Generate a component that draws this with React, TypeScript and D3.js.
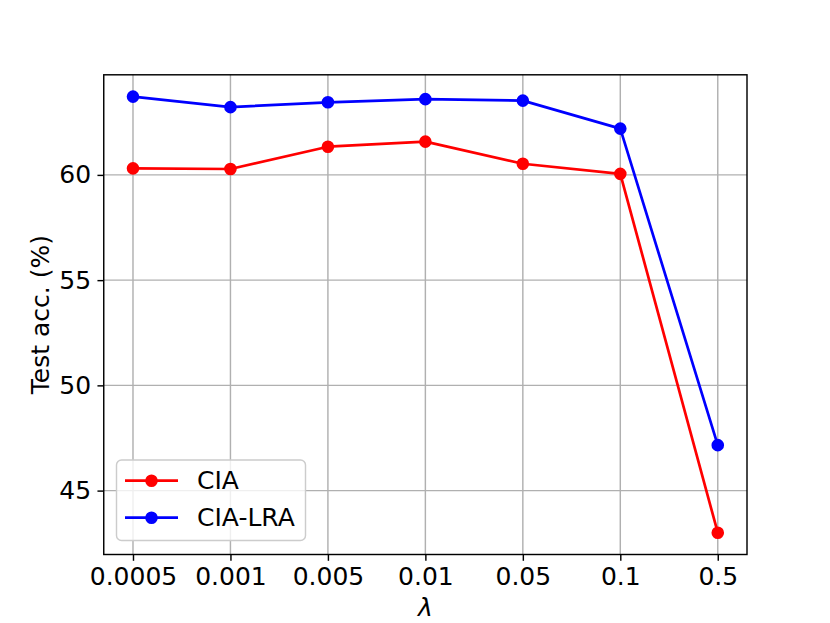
import React, { useRef, useEffect } from "react";
import * as d3 from "d3";

const lambdas = ["0.0005", "0.001", "0.005", "0.01", "0.05", "0.1", "0.5"];
const ciaAcc = [60.31, 60.28, 61.34, 61.58, 60.53, 60.05, 43.0];
const ciaLraAcc = [63.72, 63.22, 63.45, 63.6, 63.53, 62.2, 47.16];
const yTicks = [45, 50, 55, 60];

const series = [
  { name: "CIA", values: ciaAcc, color: "#ff0000" },
  { name: "CIA-LRA", values: ciaLraAcc, color: "#0000ff" },
];

const LambdaChart = ({ width = 830, height = 623 }) => {
  const svgRef = useRef<SVGSVGElement>(null);

  useEffect(() => {
    const svg = d3.select(svgRef.current);
    svg.selectAll("*").remove();

    const margin = { top: 74.8, right: 83, bottom: 68.5, left: 103.75 };
    const font = "DejaVu Sans, sans-serif";

    const x = d3
      .scalePoint()
      .domain(lambdas)
      .range([margin.left, width - margin.right])
      .padding(0.3);

    // matplotlib-style 5% margins around the data
    const all = [...ciaAcc, ...ciaLraAcc];
    const lo = d3.min(all), hi = d3.max(all);
    const pad = (hi - lo) * 0.05;
    const y = d3
      .scaleLinear()
      .domain([lo - pad, hi + pad])
      .range([height - margin.bottom, margin.top]);

    svg.append("rect").attr("width", width).attr("height", height).attr("fill", "#fff");

    // grid
    const grid = svg.append("g").attr("stroke", "#b0b0b0").attr("stroke-width", 1.44);
    grid
      .selectAll("line.v")
      .data(lambdas)
      .join("line")
      .attr("x1", (d) => x(d))
      .attr("x2", (d) => x(d))
      .attr("y1", margin.top)
      .attr("y2", height - margin.bottom);
    grid
      .selectAll("line.h")
      .data(yTicks)
      .join("line")
      .attr("y1", (d) => y(d))
      .attr("y2", (d) => y(d))
      .attr("x1", margin.left)
      .attr("x2", width - margin.right);

    // x axis
    svg
      .append("g")
      .attr("transform", `translate(0,${height - margin.bottom})`)
      .call(d3.axisBottom(x).tickSizeInner(6.3).tickSizeOuter(0).tickPadding(6.3))
      .call((g) => g.select(".domain").remove())
      .call((g) => g.selectAll("line").attr("stroke", "#000").attr("stroke-width", 1.44))
      .call((g) =>
        g.selectAll("text").attr("font-size", 25).attr("font-family", font).attr("fill", "#000")
      );

    // y axis
    svg
      .append("g")
      .attr("transform", `translate(${margin.left},0)`)
      .call(d3.axisLeft(y).tickValues(yTicks).tickSizeInner(6.3).tickSizeOuter(0).tickPadding(6.3))
      .call((g) => g.select(".domain").remove())
      .call((g) => g.selectAll("line").attr("stroke", "#000").attr("stroke-width", 1.44))
      .call((g) =>
        g.selectAll("text").attr("font-size", 25).attr("font-family", font).attr("fill", "#000")
      );

    // frame
    svg
      .append("rect")
      .attr("x", margin.left)
      .attr("y", margin.top)
      .attr("width", width - margin.left - margin.right)
      .attr("height", height - margin.top - margin.bottom)
      .attr("fill", "none")
      .attr("stroke", "#000")
      .attr("stroke-width", 1.44);

    // axis labels
    svg
      .append("text")
      .attr("x", (margin.left + width - margin.right) / 2)
      .attr("y", 616)
      .attr("text-anchor", "middle")
      .attr("font-size", 25)
      .attr("font-family", font)
      .attr("font-style", "italic")
      .text("λ");

    svg
      .append("text")
      .attr("transform", `translate(49,${(margin.top + height - margin.bottom) / 2}) rotate(-90)`)
      .attr("text-anchor", "middle")
      .attr("font-size", 25)
      .attr("font-family", font)
      .text("Test acc. (%)");

    const line = d3
      .line<number>()
      .x((d, i) => x(lambdas[i]))
      .y((d) => y(d));

    series.forEach((s) => {
      svg
        .append("path")
        .datum(s.values)
        .attr("fill", "none")
        .attr("stroke", s.color)
        .attr("stroke-width", 2.7)
        .attr("stroke-linejoin", "round")
        .attr("d", line);
      svg
        .append("g")
        .selectAll("circle")
        .data(s.values)
        .join("circle")
        .attr("cx", (d, i) => x(lambdas[i]))
        .attr("cy", (d) => y(d))
        .attr("r", 5.4)
        .attr("fill", s.color)
        .attr("stroke", s.color)
        .attr("stroke-width", 1.8);
    });

    // legend
    const legend = svg.append("g");
    legend
      .append("rect")
      .attr("x", 116.5)
      .attr("y", 460)
      .attr("width", 189)
      .attr("height", 80.5)
      .attr("rx", 5)
      .attr("fill", "#fff")
      .attr("fill-opacity", 0.8)
      .attr("stroke", "#cccccc")
      .attr("stroke-width", 1.44);

    series.forEach((s, i) => {
      const cy = 480.7 + i * 37;
      legend
        .append("line")
        .attr("x1", 125)
        .attr("x2", 178)
        .attr("y1", cy)
        .attr("y2", cy)
        .attr("stroke", s.color)
        .attr("stroke-width", 2.7);
      legend
        .append("circle")
        .attr("cx", 151.5)
        .attr("cy", cy)
        .attr("r", 5.4)
        .attr("fill", s.color)
        .attr("stroke", s.color)
        .attr("stroke-width", 1.8);
      legend
        .append("text")
        .attr("x", 197)
        .attr("y", cy)
        .attr("dy", "0.35em")
        .attr("font-size", 25)
        .attr("font-family", font)
        .text(s.name);
    });
  }, [width, height]);

  return (
    <div style={{ position: "absolute", left: 0, top: 0 }}>
      <svg ref={svgRef} width={width} height={height} style={{ display: "block" }}></svg>
    </div>
  );
};

export default function App() {
  return <LambdaChart />;
}
